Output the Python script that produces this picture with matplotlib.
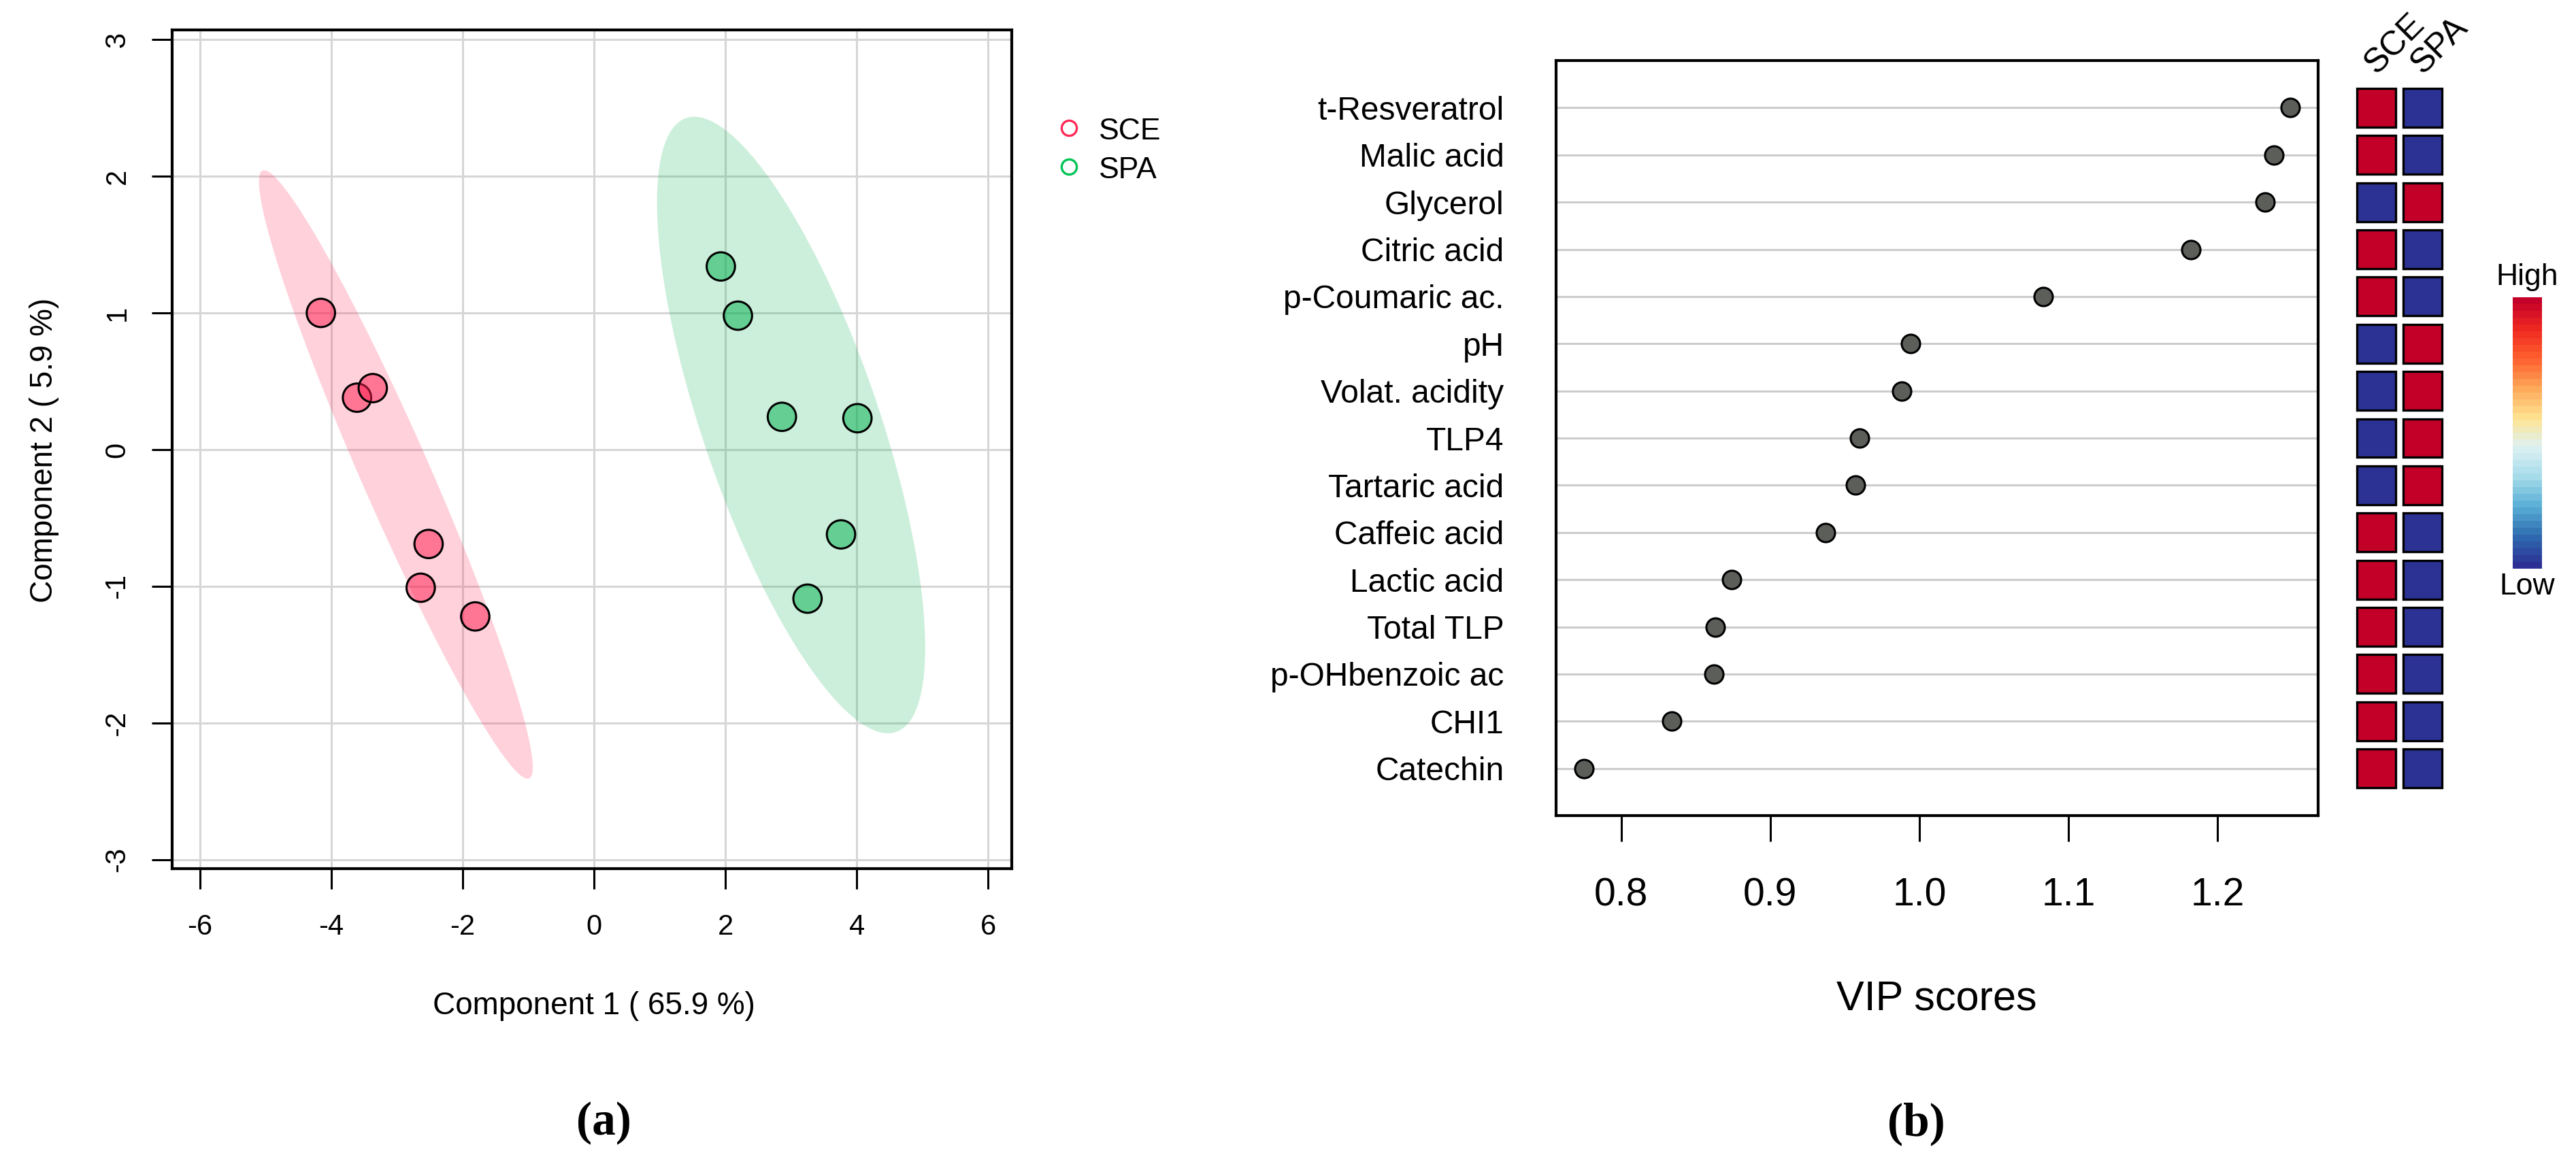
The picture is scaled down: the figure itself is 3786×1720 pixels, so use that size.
import numpy as np
import matplotlib
matplotlib.use("Agg")
from matplotlib import pyplot as plt
from matplotlib.patches import Ellipse, Rectangle
from matplotlib.lines import Line2D
from matplotlib.colors import LinearSegmentedColormap, to_rgba

plt.rcParams['font.family'] = ['Liberation Sans', 'DejaVu Sans']

# data

groups = ["SCE", "SPA"]
group_colors = {"SCE": "#FF1A4E", "SPA": "#00B04C"}
legend_colors = {"SCE": "#FF2A55", "SPA": "#00C455"}

sce_x = [-4.16, -3.61, -3.37, -2.52, -2.64, -1.81]
sce_y = [1.00, 0.38, 0.45, -0.69, -1.01, -1.22]
spa_x = [1.93, 2.19, 2.86, 4.01, 3.76, 3.25]
spa_y = [1.34, 0.98, 0.24, 0.23, -0.62, -1.09]

features = ["t-Resveratrol", "Malic acid", "Glycerol", "Citric acid", "p-Coumaric ac.",
            "pH", "Volat. acidity", "TLP4", "Tartaric acid", "Caffeic acid",
            "Lactic acid", "Total TLP", "p-OHbenzoic ac", "CHI1", "Catechin"]
vip = [1.249, 1.238, 1.232, 1.182, 1.083, 0.994, 0.988, 0.960, 0.957, 0.937,
       0.874, 0.863, 0.862, 0.834, 0.775]
# 1 = high, 0 = low
sce_level = [1, 1, 0, 1, 1, 0, 0, 0, 0, 1, 1, 1, 1, 1, 1]
spa_level = [0, 0, 1, 0, 0, 1, 1, 1, 1, 0, 0, 0, 0, 0, 0]

W, H = 3786, 1720
fig = plt.figure(figsize=(W / 100, H / 100), dpi=100)


def fx(px):
    return px / W


def fy(py):
    return 1 - py / H


# ---------- (a) PLS-DA scores ----------

ax = fig.add_axes([fx(253), fy(1277), fx(1487 - 253), (1277 - 44) / H])
ax.set_xlim(-6.425, 6.36)
ax.set_ylim(-3.065, 3.07)
ax.set_xticks(np.arange(-6, 7, 2))
ax.set_yticks(np.arange(-3, 4, 1))
ax.set_xticklabels([str(v) for v in range(-6, 7, 2)])
ax.set_yticklabels([str(v) for v in range(-3, 4)], rotation=90, va='center')
ax.grid(True, color="#D6D6D6", linewidth=2.2, zorder=0)
ax.set_axisbelow(True)
for s in ax.spines.values():
    s.set_linewidth(3.0)
ax.tick_params(axis='both', direction='out', length=21.5, width=2.2, labelsize=30)
ax.tick_params(axis='x', pad=26)
ax.tick_params(axis='y', pad=22)

chi = np.sqrt(-2 * np.log(0.05))  # 95% level, 2 dof
for g, xs, ys in [("SCE", sce_x, sce_y), ("SPA", spa_x, spa_y)]:
    pts = np.column_stack([xs, ys])
    c = pts.mean(axis=0)
    cov = np.cov(pts, rowvar=False)
    vals, vecs = np.linalg.eigh(cov)
    order = vals.argsort()[::-1]
    vals, vecs = vals[order], vecs[:, order]
    ang = np.degrees(np.arctan2(vecs[1, 0], vecs[0, 0]))
    # scale widths to pixel space is not needed: Ellipse is in data coords
    e = Ellipse(c, 2 * chi * np.sqrt(vals[0]), 2 * chi * np.sqrt(vals[1]), angle=ang,
                facecolor=to_rgba(group_colors[g], 0.2), edgecolor='none', zorder=1)
    ax.add_patch(e)
    ax.scatter(xs, ys, s=900, facecolors=[to_rgba(group_colors[g], 0.5)] * len(xs),
               edgecolors='black', linewidths=2.2, zorder=3)

fig.text(fx(873), fy(1479), "Component 1 ( 65.9 %)", ha='center', va='center', fontsize=33)
fig.text(fx(65), fy(662), "Component 2 ( 5.9 %)", ha='center', va='center', fontsize=33,
         rotation=90)

for i, g in enumerate(groups):
    yy = 188 + i * 57
    fig.add_artist(Line2D([fx(1571)], [fy(yy)], marker='o', markersize=16, mfc='none',
                          mec=legend_colors[g], mew=2.4, transform=fig.transFigure))
    fig.text(fx(1615), fy(yy + 17), g, ha='left', va='baseline', fontsize=32)

fig.text(fx(887), fy(1651), "(a)", ha='center', va='center', fontsize=50,
         family=['Liberation Serif', 'DejaVu Serif'], fontweight='bold')

# ---------- (b) VIP scores ----------

n = len(features)
rows = np.arange(n, 0, -1)

bx = fig.add_axes([fx(2287), fy(1199), fx(3407 - 2287), (1199 - 89) / H])
bx.set_xlim(0.7562, 1.2676)
bx.set_ylim(0, n + 1)
for r in rows:
    bx.axhline(r, color="#CCCCCC", linewidth=2.2, zorder=1)
bx.plot(vip, rows, linestyle='none', marker='o', markersize=19.5, mfc="#5C5E5A",
        mec='black', mew=2.2, zorder=3)
bx.set_yticks(rows)
bx.set_yticklabels(features)
bx.set_xticks([0.8, 0.9, 1.0, 1.1, 1.2])
bx.set_xticklabels(["0.8", "0.9", "1.0", "1.1", "1.2"])
bx.tick_params(axis='y', length=0, pad=55, labelsize=34.5)
bx.tick_params(axis='x', direction='out', length=27, width=2.2, labelsize=41, pad=38)
for s in bx.spines.values():
    s.set_linewidth(3.0)
fig.text(fx(2846), fy(1469), "VIP scores", ha='center', va='center', fontsize=44)
fig.text(fx(2816), fy(1652), "(b)", ha='center', va='center', fontsize=50,
         family=['Liberation Serif', 'DejaVu Serif'], fontweight='bold')

# heat cells
hi_col, lo_col = "#C20028", "#2C3294"
hx = fig.add_axes([fx(3458), fy(1199), fx(3595 - 3458), (1199 - 89) / H])
hx.set_xlim(0, 2)
hx.set_ylim(0, n + 1)
hx.axis('off')
cw, chh = 0.83, 0.82
for j, levels in enumerate([sce_level, spa_level]):
    for r, lv in zip(rows, levels):
        hx.add_patch(Rectangle((j + 0.5 - cw / 2, r - chh / 2), cw, chh,
                               facecolor=hi_col if lv else lo_col,
                               edgecolor='black', linewidth=2.4))
    hx.text(j + 0.5, n + 0.7, groups[j], rotation=45, rotation_mode='anchor',
            ha='left', va='baseline', fontsize=36, clip_on=False)

# colour key
key_colors = ["#2C2F94", "#2F6CB0", "#5AAFD6", "#A6DCEA", "#DDF1F3",
              "#FFE493", "#FDAA5A", "#FF6230", "#F02A20", "#C4002A"]
cmap = LinearSegmentedColormap.from_list("key", key_colors, N=40)
cx = fig.add_axes([fx(3693), fy(836), fx(43), (836 - 437) / H])
cx.imshow(np.linspace(1, 0, 40).reshape(-1, 1), aspect='auto', cmap=cmap)
cx.axis('off')
fig.text(fx(3714), fy(408), "High", ha='center', va='center', fontsize=32)
fig.text(fx(3714), fy(862), "Low", ha='center', va='center', fontsize=32)

fig.savefig("out.png", dpi=100, facecolor='white')
